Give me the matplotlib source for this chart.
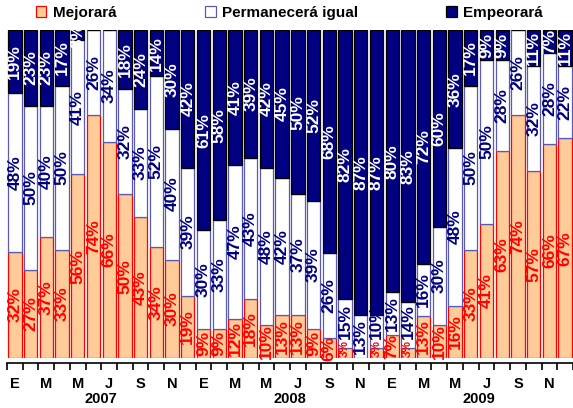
import numpy as np
import matplotlib.pyplot as plt

# encuesta de expectativas, ene-2007 .. dic-2009
mejorara = [32, 27, 37, 33, 56, 74, 66, 50, 43, 34, 30, 19,
            9, 9, 12, 18, 10, 13, 13, 9, 6, 3, 0, 3,
            7, 3, 13, 10, 16, 33, 41, 63, 74, 57, 66, 67]
igual = [48, 50, 40, 50, 41, 26, 34, 32, 33, 52, 40, 39,
         30, 33, 47, 43, 48, 42, 37, 39, 26, 15, 13, 10,
         13, 14, 16, 30, 48, 50, 50, 28, 26, 32, 28, 22]
empeorara = [19, 23, 23, 17, 3, 0, 0, 18, 24, 14, 30, 42,
             61, 58, 41, 39, 42, 45, 50, 52, 68, 82, 87, 87,
             80, 83, 72, 60, 36, 17, 9, 9, 0, 11, 7, 11]
meses = ['E', '', 'M', '', 'M', '', 'J', '', 'S', '', 'N', ''] * 3
anios = ['2007', '2008', '2009']

plt.rcParams['font.family'] = ['Liberation Sans', 'DejaVu Sans']

m = np.array(mejorara, float)
g = np.array(igual, float)
e = np.array(empeorara, float)
tot = m + g + e
m_p, g_p, e_p = m / tot * 100, g / tot * 100, e / tot * 100
x = np.arange(len(m))

fig = plt.figure(figsize=(5.73, 4.08), dpi=100)
ax = fig.add_axes([0.0122, 0.1225, 0.9878, 0.8035])

w = 0.85
b1 = ax.bar(x, m_p, w, color='#FFCC99', edgecolor='#FF0000', linewidth=0.9,
            label='Mejorará')
b2 = ax.bar(x, g_p, w, bottom=m_p, color='white', edgecolor='#5A5AB4',
            linewidth=0.9, label='Permanecerá igual')
b3 = ax.bar(x, e_p, w, bottom=m_p + g_p, color='#000080', edgecolor='black',
            linewidth=0.9, label='Empeorará')

segs = [(m, m_p, np.zeros_like(m_p), '#FF0000'),
        (g, g_p, m_p, '#000080'),
        (e, e_p, m_p + g_p, 'white')]
for raw, h, bot, col in segs:
    for i in range(len(x)):
        if raw[i] <= 0:
            continue
        if bot[i] == 0 and raw[i] < 5:
            # tiny bottom segment: small label sitting on the axis
            ax.text(x[i], 0.3, '%d%%' % raw[i], rotation=90, ha='center',
                    va='bottom', color=col, fontsize=8.5, fontweight='bold')
            continue
        yc = bot[i] + h[i] / 2
        if 0 < bot[i] < 5:
            # keep clear of the small label below
            yc = max(yc, 11)
        ax.text(x[i], yc, '%d%%' % raw[i], rotation=90,
                ha='center', va='center', color=col, fontsize=12.5,
                fontweight='bold')

ax.set_xlim(-0.5, len(x) - 0.5)
ax.set_ylim(0, 100)
ax.set_yticks([])
for s in ['left', 'right', 'top']:
    ax.spines[s].set_visible(False)
ax.spines['bottom'].set_linewidth(1.2)
ax.spines['bottom'].set_position(('outward', 3.5))

ax.set_xticks(x)
ax.set_xticklabels(meses, fontsize=10.5, fontweight='bold')
ax.tick_params(axis='x', which='major', length=0, pad=10)
ax.set_xticks(np.arange(-0.5, len(x), 1), minor=True)
ax.tick_params(axis='x', which='minor', length=5, width=1.2, direction='out')

for k, a in enumerate(anios):
    ax.text(k * 12 + 5.5, -0.125, a, transform=ax.get_xaxis_transform(),
            ha='center', va='center', fontsize=10.5, fontweight='bold')

fig.legend(handles=[b1, b2, b3], loc='upper center', ncol=3,
           bbox_to_anchor=(0.505, 1.02), frameon=False, handlelength=0.7,
           handleheight=0.7, handletextpad=0.4, columnspacing=5.8,
           prop={'weight': 'bold', 'size': 11})

fig.savefig('out.png', dpi=100)
